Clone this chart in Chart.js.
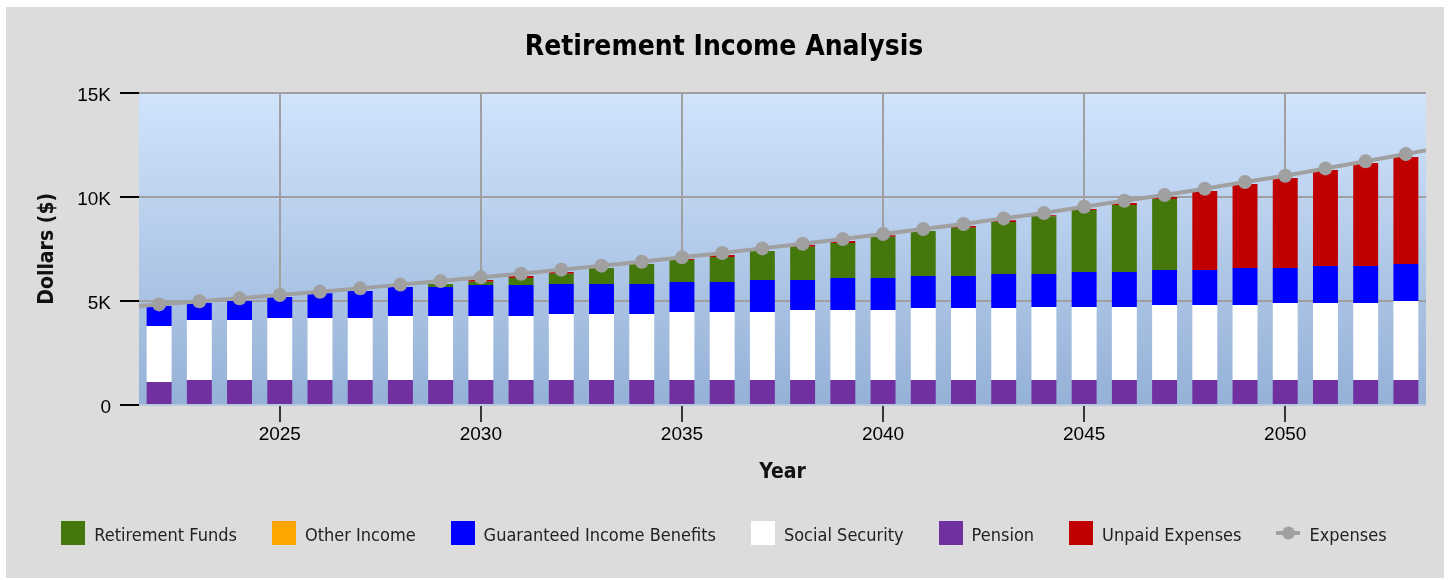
<!DOCTYPE html>
<html>
<head>
<meta charset="utf-8">
<title>Retirement Income Analysis</title>
<script src="https://cdn.jsdelivr.net/npm/chart.js@4.4.0/dist/chart.umd.min.js"></script>
<style>
  html, body { margin: 0; padding: 0; background: #fff; }
  #wrap { width: 1448px; height: 580px; }
</style>
</head>
<body>
<div id="wrap"><canvas id="incomeChart" width="1448" height="580"></canvas></div>
<script>
// yearly values in dollars
const years = [2022, 2023, 2024, 2025, 2026, 2027, 2028, 2029, 2030, 2031, 2032, 2033, 2034, 2035, 2036, 2037,
  2038, 2039, 2040, 2041, 2042, 2043, 2044, 2045, 2046, 2047, 2048, 2049, 2050, 2051, 2052, 2053];
const pension = [1100, 1200, 1200, 1200, 1200, 1200, 1200, 1200, 1200, 1200, 1200, 1200, 1200, 1200, 1200, 1200,
  1200, 1200, 1200, 1200, 1200, 1200, 1200, 1200, 1200, 1200, 1200, 1200, 1200, 1200, 1200, 1200];
const socialSecurity = [2690, 2880, 2880, 2980, 2980, 2980, 3070, 3070, 3070, 3070, 3170, 3170, 3170, 3260, 3260, 3260,
  3360, 3360, 3360, 3460, 3460, 3460, 3500, 3500, 3500, 3600, 3600, 3600, 3700, 3700, 3700, 3790];
const guaranteed = [960, 820, 910, 1000, 1180, 1290, 1390, 1390, 1490, 1490, 1440, 1440, 1440, 1440, 1440, 1540,
  1440, 1540, 1540, 1530, 1530, 1630, 1590, 1690, 1690, 1680, 1680, 1780, 1680, 1770, 1770, 1780];
const otherIncome = [0, 0, 0, 0, 0, 0, 0, 0, 0, 0, 0, 0, 0, 0, 0, 0,
  0, 0, 0, 0, 0, 0, 0, 0, 0, 0, 0, 0, 0, 0, 0, 0];
const retirementFunds = [0, 0, 0, 0, 0, 0, 0, 150, 160, 340, 490, 770, 960, 1060, 1210, 1390,
  1600, 1680, 1980, 2160, 2320, 2500, 2770, 2970, 3210, 3410, 0, 0, 0, 0, 0, 0];
const unpaid = [0, 0, 0, 0, 0, 0, 0, 0, 80, 90, 90, 0, 0, 50, 90, 0,
  80, 90, 70, 0, 80, 80, 50, 50, 100, 100, 3790, 4030, 4320, 4610, 4950, 5140];
const expenses = [4830, 4980, 5120, 5280, 5440, 5600, 5780, 5950, 6130, 6300, 6500, 6690, 6880, 7090, 7300, 7520,
  7740, 7970, 8210, 8450, 8690, 8960, 9220, 9520, 9810, 10080, 10380, 10710, 11010, 11360, 11700, 12050];
const yTicks = [0, 5000, 10000, 15000];
const legendOrder = ['Retirement Funds', 'Other Income', 'Guaranteed Income Benefits', 'Social Security',
  'Pension', 'Unpaid Expenses', 'Expenses'];

const uiFont = '"DejaVu Sans Condensed", "DejaVu Sans", sans-serif';
const tickFont = '"Liberation Sans", Arial, sans-serif';
const GREY = '#a0a0a0';

// little legend markers (square swatch, or line with dot for Expenses)
function swatch(color) {
  const c = document.createElement('canvas');
  c.width = 24; c.height = 30;
  const g = c.getContext('2d');
  g.fillStyle = color;
  g.fillRect(0, 0, 24, 24);
  return c;
}
function lineMarker(color) {
  const c = document.createElement('canvas');
  c.width = 24; c.height = 30;
  const g = c.getContext('2d');
  g.strokeStyle = color; g.lineWidth = 4;
  g.beginPath(); g.moveTo(0, 12); g.lineTo(24, 12); g.stroke();
  g.fillStyle = color;
  g.beginPath(); g.arc(12, 12, 6.5, 0, Math.PI * 2); g.fill();
  return c;
}

function bar(label, data, color) {
  return { type: 'bar', label, data, backgroundColor: color, borderWidth: 0,
    stack: 'income', barPercentage: 0.62, categoryPercentage: 1, marker: swatch(color) };
}

// grey panel + blue gradient plot background
const backdrop = {
  id: 'backdrop',
  beforeDraw(chart) {
    const { ctx, chartArea: a } = chart;
    ctx.save();
    ctx.fillStyle = '#ffffff';
    ctx.fillRect(0, 0, chart.width, chart.height);
    ctx.fillStyle = '#dcdcdc';
    ctx.fillRect(6, 7, 1438, 571);
    const grad = ctx.createLinearGradient(0, a.top, 0, a.bottom);
    grad.addColorStop(0, '#d1e4fc');
    grad.addColorStop(1, '#95b1d7');
    ctx.fillStyle = grad;
    ctx.fillRect(a.left, a.top, a.right - a.left, a.bottom - a.top);
    ctx.restore();
  }
};

// the expenses line runs on past the first and last dots to the plot edges
const lineEnds = {
  id: 'lineEnds',
  afterDatasetDraw(chart, args) {
    const ds = chart.data.datasets[args.index];
    if (ds.type !== 'line') return;
    const pts = args.meta.data;
    if (pts.length < 2) return;
    const a = chart.chartArea;
    const ctx = chart.ctx;
    const p0 = pts[0], p1 = pts[1], q0 = pts[pts.length - 1], q1 = pts[pts.length - 2];
    const s0 = (p1.y - p0.y) / (p1.x - p0.x);
    const s1 = (q0.y - q1.y) / (q0.x - q1.x);
    ctx.save();
    ctx.strokeStyle = ds.borderColor;
    ctx.lineWidth = ds.borderWidth;
    ctx.beginPath();
    ctx.moveTo(a.left, p0.y - s0 * (p0.x - a.left));
    ctx.lineTo(p0.x, p0.y);
    ctx.moveTo(q0.x, q0.y);
    ctx.lineTo(a.right, q0.y + s1 * (a.right - q0.x));
    ctx.stroke();
    ctx.restore();
  }
};

const ctx = document.getElementById('incomeChart').getContext('2d');
new Chart(ctx, {
  data: {
    labels: years,
    datasets: [
      bar('Pension', pension, '#7030a0'),
      bar('Social Security', socialSecurity, '#ffffff'),
      bar('Guaranteed Income Benefits', guaranteed, '#0000ff'),
      bar('Other Income', otherIncome, '#ffa500'),
      bar('Retirement Funds', retirementFunds, '#44780c'),
      bar('Unpaid Expenses', unpaid, '#c00000'),
      {
        type: 'line', label: 'Expenses', data: expenses, order: -1,
        borderColor: GREY, backgroundColor: GREY, borderWidth: 4,
        pointRadius: 7, pointBorderWidth: 0, pointBackgroundColor: GREY,
        tension: 0, marker: lineMarker(GREY)
      }
    ]
  },
  options: {
    responsive: false,
    animation: false,
    layout: { padding: { top: 0, left: 0, right: 0, bottom: 25 } },
    plugins: {
      title: {
        display: true,
        text: 'Retirement Income Analysis',
        color: '#000',
        font: { family: uiFont, size: 28, weight: 'bold' },
        padding: { top: 31, bottom: 28 }
      },
      legend: {
        position: 'bottom',
        labels: {
          usePointStyle: true,
          pointStyleWidth: 24,
          boxHeight: 18,
          padding: 35,
          color: '#222',
          font: { family: uiFont, size: 18 },
          generateLabels(chart) {
            const items = Chart.defaults.plugins.legend.labels.generateLabels(chart);
            items.forEach(it => { it.pointStyle = chart.data.datasets[it.datasetIndex].marker; });
            return items;
          },
          sort: (a, b) => legendOrder.indexOf(a.text) - legendOrder.indexOf(b.text)
        }
      },
      tooltip: { enabled: false }
    },
    scales: {
      x: {
        type: 'category',
        stacked: true,
        offset: true,
        border: { display: false },
        grid: {
          offset: false,
          lineWidth: 2,
          tickLength: 17,
          color: c => years[c.index] % 5 === 0 ? GREY : 'rgba(0,0,0,0)',
          tickColor: c => years[c.index] % 5 === 0 ? '#000' : 'rgba(0,0,0,0)',
          tickWidth: 1.5
        },
        ticks: {
          autoSkip: false,
          maxRotation: 0,
          padding: 1,
          color: '#000',
          font: { family: tickFont, size: 19 },
          callback: (v, i) => years[i] % 5 === 0 ? String(years[i]) : ''
        },
        title: {
          display: true,
          text: 'Year',
          color: '#111',
          font: { family: uiFont, size: 21, weight: 'bold' },
          padding: { top: 0, bottom: 7 }
        },
        afterFit: s => { s.height = 87; }
      },
      y: {
        stacked: true,
        min: 0,
        max: 15000,
        border: { display: false },
        afterBuildTicks: s => { s.ticks = yTicks.map(v => ({ value: v })); },
        grid: {
          lineWidth: 2,
          tickLength: 19,
          tickWidth: 2,
          color: c => c.tick && c.tick.value === 0 ? '#b9c8dc' : GREY,
          tickColor: '#000'
        },
        ticks: {
          padding: 9,
          labelOffset: 3,
          color: '#000',
          font: { family: tickFont, size: 19 },
          callback: v => v === 0 ? '0' : (v / 1000) + 'K'
        },
        title: {
          display: true,
          text: 'Dollars ($)',
          color: '#111',
          font: { family: uiFont, size: 21, weight: 'bold' },
          padding: { top: 35 }
        },
        afterFit: s => { s.width = 139; }
      },
      yRight: {
        position: 'right',
        display: true,
        border: { display: false },
        grid: { display: false, drawTicks: false },
        ticks: { display: false },
        afterFit: s => { s.width = 22; }
      }
    }
  },
  plugins: [backdrop, lineEnds]
});
</script>
</body>
</html>
